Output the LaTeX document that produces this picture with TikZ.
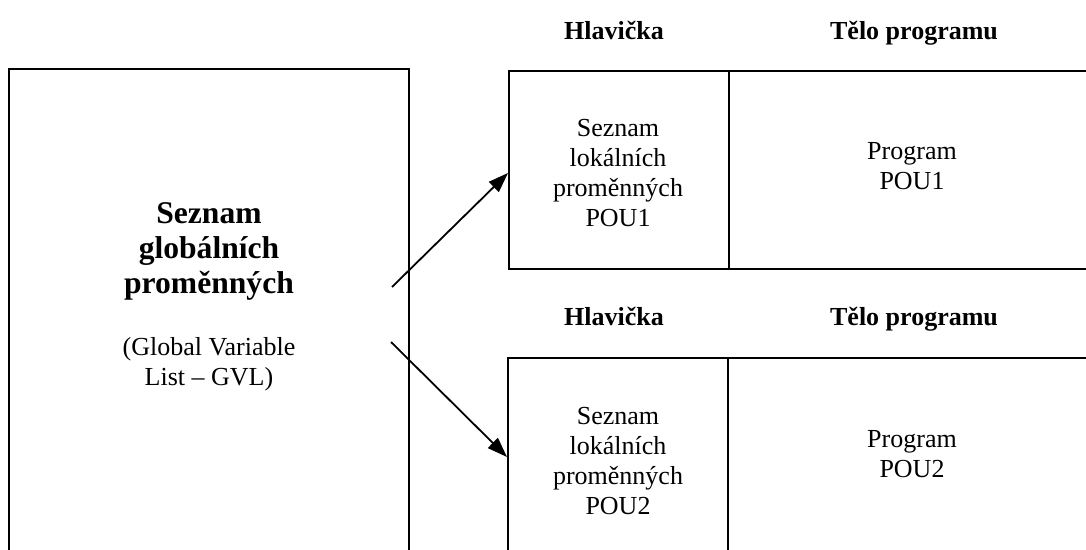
\documentclass[tikz,border=0pt]{standalone}
\usepackage{fontspec}
\setmainfont{Liberation Serif}
\usetikzlibrary{arrows.meta}
\begin{document}
\begin{tikzpicture}[x=0.5pt,y=-0.5pt,
  box/.style={draw, line width=1pt},
  txt/.style={align=center, font=\fontsize{13}{15}\selectfont, inner sep=0pt},
  head/.style={font=\fontsize{13}{15}\selectfont\bfseries, inner sep=0pt, anchor=base},
  big/.style={align=center, font=\fontsize{15.8}{17.5}\selectfont\bfseries, inner sep=0pt},
  gvl/.style={align=center, font=\fontsize{13}{15}\selectfont, inner sep=0pt},
  arr/.style={line width=0.9pt, -{Triangle[length=10pt,width=7pt]}}]
\useasboundingbox (0,0) rectangle (1086,550);
% left box (bottom beyond picture)
\draw[box] (9,560) -- (9,69) -- (409,69) -- (409,560);
% upper right box
\draw[box] (1100,71) -- (509,71) -- (509,269) -- (1100,269);
\draw[line width=0.8pt] (729,71) -- (729,269);
% lower right box
\draw[box] (1100,358) -- (508,358) -- (508,560);
\draw[line width=0.8pt] (728,358) -- (728,560);

\node[head] (h1) at (614,40) {Hlavička};
\node[head] (t1) at (914,40) {Tělo programu};
\node[head] (h2) at (614,326) {Hlavička};
\node[head] (t2) at (914,326) {Tělo programu};

\node[big] (g) at (209,251) {Seznam\\globálních\\proměnných};
\node[gvl] (gv) at (209,364) {(Global Variable\\List – GVL)};

\node[txt] (l1) at (618,173) {Seznam\\lokálních\\proměnných\\POU1};
\node[txt] (p1) at (912,166) {Program\\POU1};
\node[txt] (l2) at (618,461) {Seznam\\lokálních\\proměnných\\POU2};
\node[txt] (p2) at (912,454) {Program\\POU2};

\coordinate (a1s) at (392,287);
\coordinate (a1e) at (508,173);
\coordinate (a2s) at (391,342);
\coordinate (a2e) at (507,457);
\draw[arr] (a1s) -- (a1e);
\draw[arr] (a2s) -- (a2e);
\end{tikzpicture}
\end{document}
